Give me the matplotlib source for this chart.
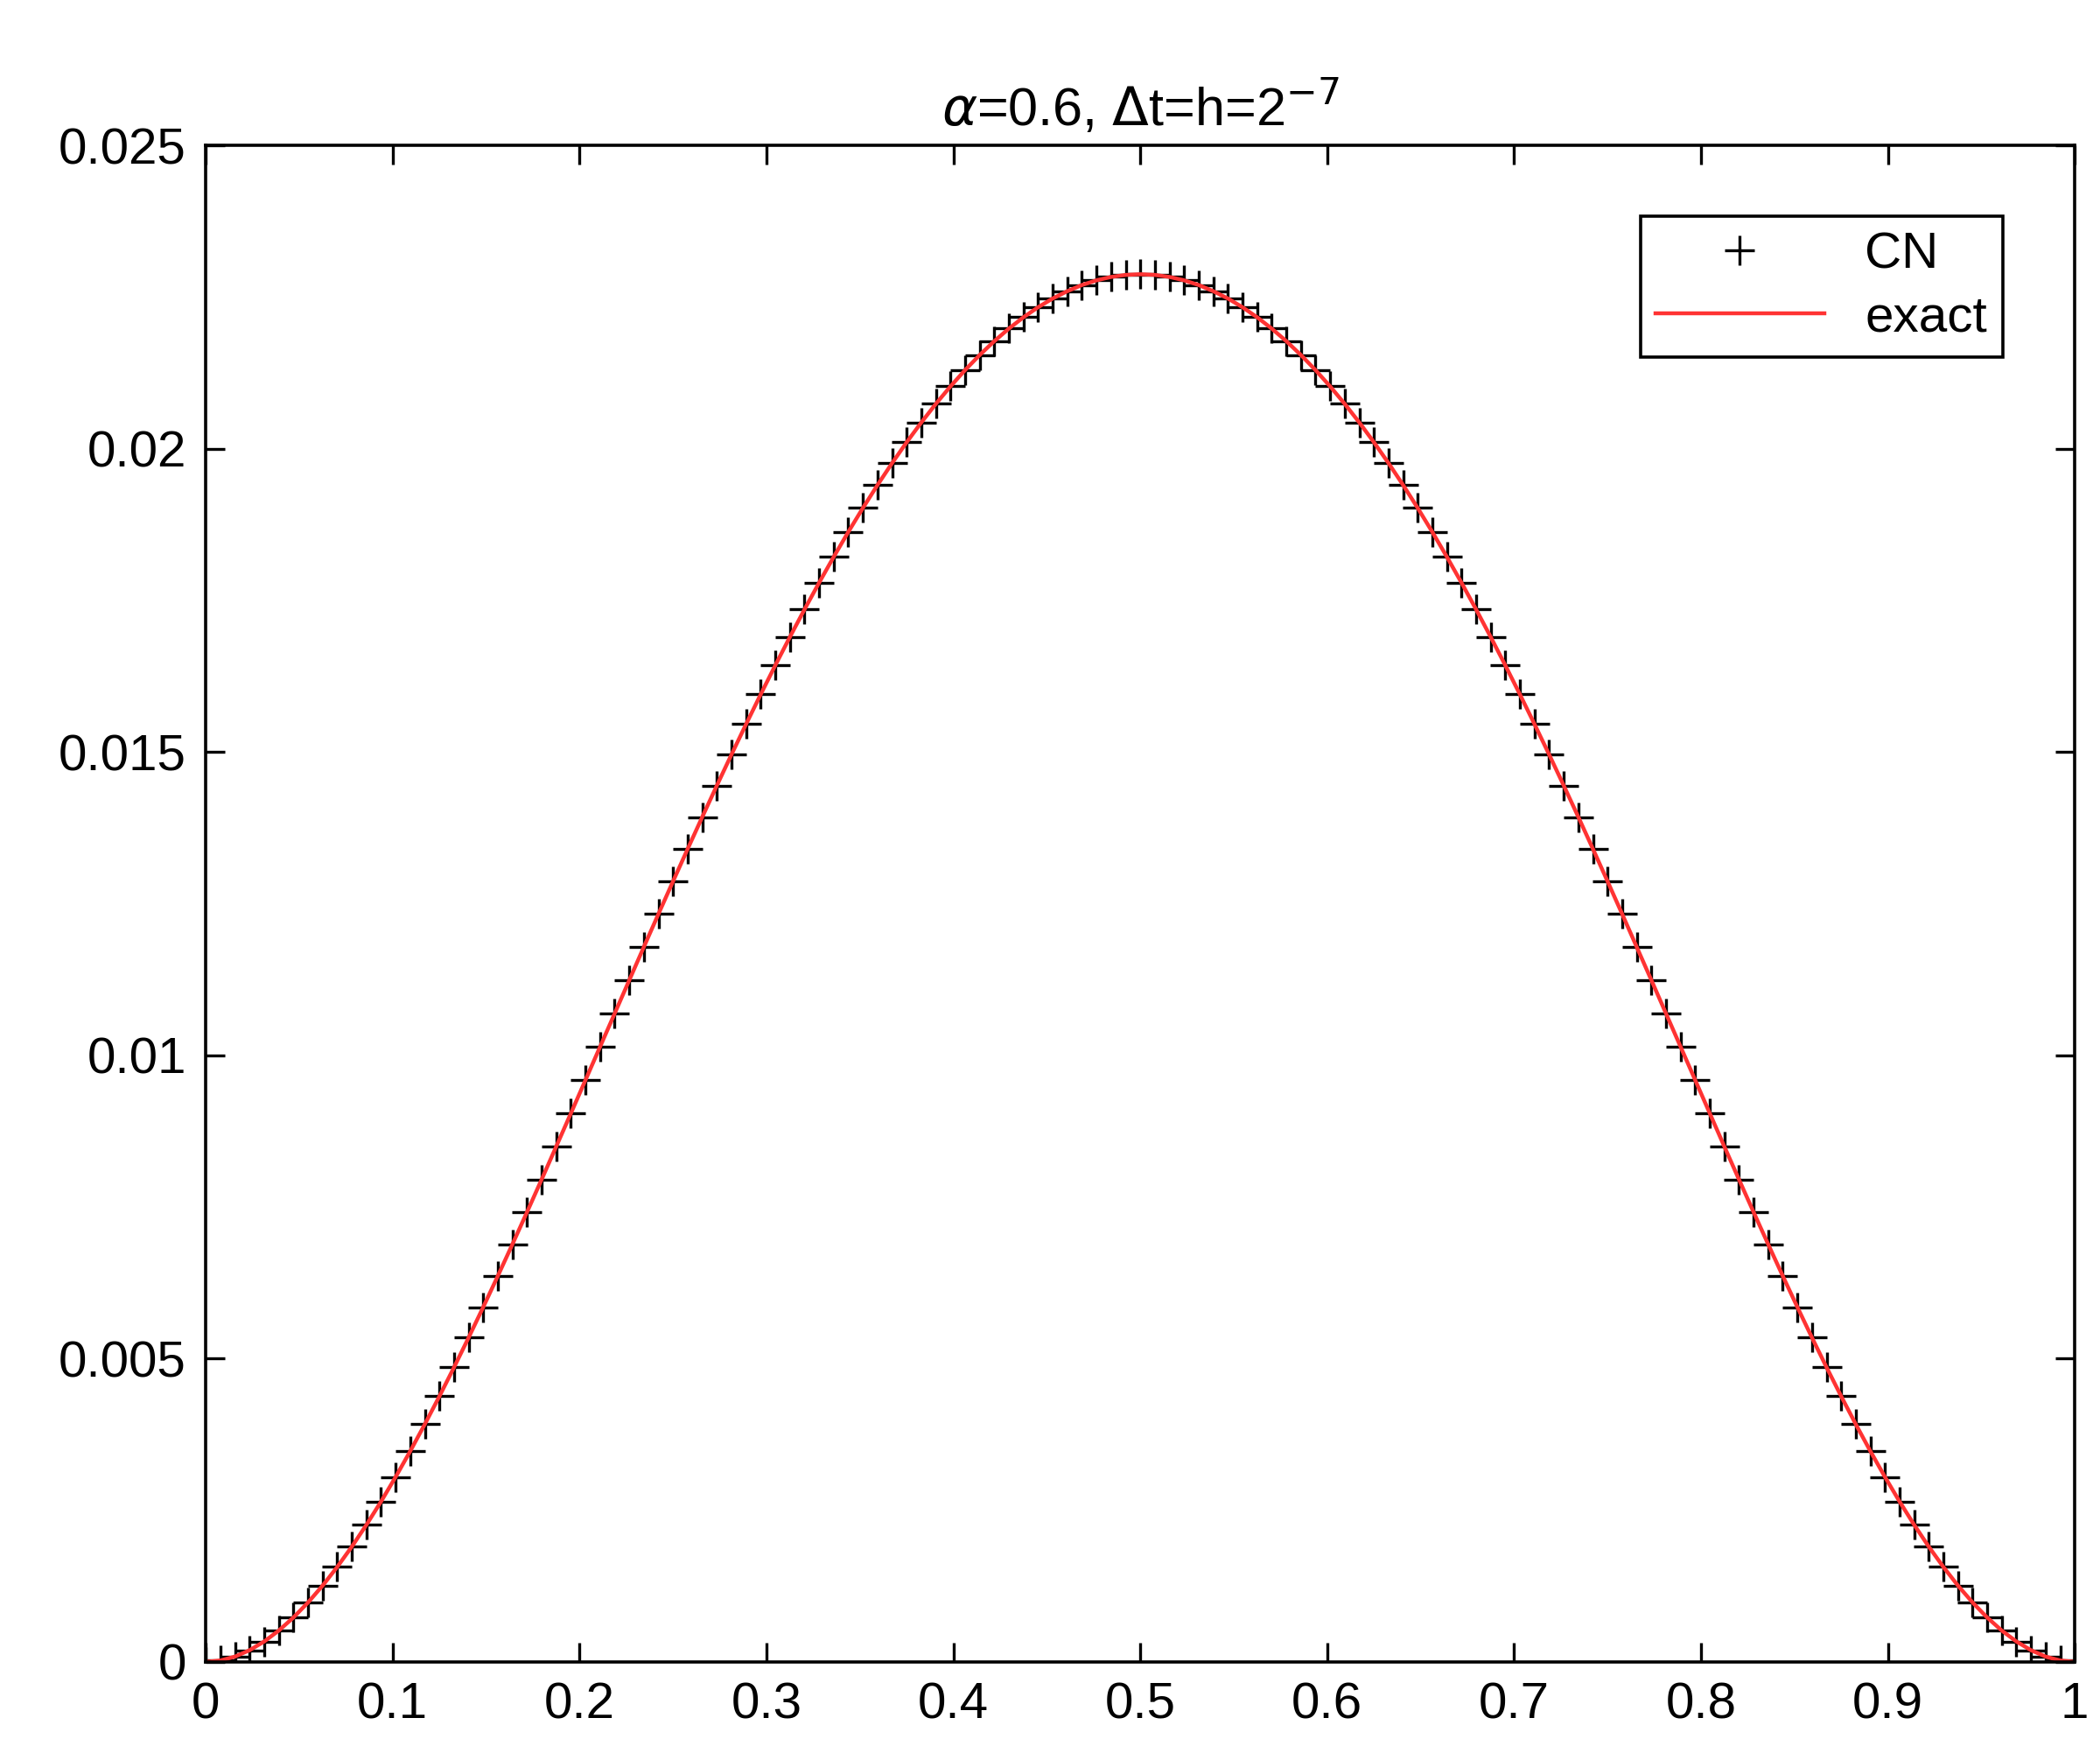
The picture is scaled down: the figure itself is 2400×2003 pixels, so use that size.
import numpy as np
import matplotlib.pyplot as plt

# grid x = i/128
x = np.arange(129) / 128.0
u = [0.0, 2.2e-05, 8.66e-05, 0.0001918, 0.0003355, 0.0005158, 0.0007307, 0.0009783,
     0.0012567, 0.0015641, 0.0018987, 0.0022587, 0.0026422, 0.0030477, 0.0034734, 0.0039177,
     0.0043789, 0.0048555, 0.0053459, 0.0058486, 0.006362, 0.0068849, 0.0074156, 0.0079529,
     0.0084953, 0.0090416, 0.0095904, 0.0101405, 0.0106907, 0.0112397, 0.0117865, 0.0123298,
     0.0128687, 0.0134019, 0.0139285, 0.0144475, 0.014958, 0.0154589, 0.0159494, 0.0164286,
     0.0168957, 0.01735, 0.0177905, 0.0182166, 0.0186276, 0.0190228, 0.0194015, 0.0197633,
     0.0201074, 0.0204333, 0.0207406, 0.0210288, 0.0212974, 0.021546, 0.0217742, 0.0219818,
     0.0221683, 0.0223336, 0.0224773, 0.0225979, 0.0226993, 0.0227772, 0.022833, 0.0228665,
     0.0228777,
     0.0228665, 0.022833, 0.0227772, 0.0226993, 0.0225979, 0.0224773, 0.0223336, 0.0221683,
     0.0219818, 0.0217742, 0.021546, 0.0212974, 0.0210288, 0.0207406, 0.0204333, 0.0201074,
     0.0197633, 0.0194015, 0.0190228, 0.0186276, 0.0182166, 0.0177905, 0.01735, 0.0168957,
     0.0164286, 0.0159494, 0.0154589, 0.014958, 0.0144475, 0.0139285, 0.0134019, 0.0128687,
     0.0123298, 0.0117865, 0.0112397, 0.0106907, 0.0101405, 0.0095904, 0.0090416, 0.0084953,
     0.0079529, 0.0074156, 0.0068849, 0.006362, 0.0058486, 0.0053459, 0.0048555, 0.0043789,
     0.0039177, 0.0034734, 0.0030477, 0.0026422, 0.0022587, 0.0018987, 0.0015641, 0.0012567,
     0.0009783, 0.0007307, 0.0005158, 0.0003355, 0.0001918, 8.66e-05, 2.2e-05, 0.0]

plt.rcParams['font.family'] = ['Liberation Sans', 'DejaVu Sans']
fig = plt.figure(figsize=(12, 10.015), dpi=200)
ax = fig.add_axes([0.098, 0.052, 0.89, 0.865])
ax.plot(x, u, '+', color='black', markersize=12, markeredgewidth=1.2, label='CN')
ax.plot(x, u, '-', color='#ff3333', linewidth=1.6, label='exact')
ax.set_xlim(0, 1)
ax.set_ylim(0, 0.025)
ax.set_xticks(np.arange(0, 1.01, 0.1))
ax.set_xticklabels(['0', '0.1', '0.2', '0.3', '0.4', '0.5', '0.6', '0.7', '0.8', '0.9', '1'])
ax.set_yticks([0, 0.005, 0.01, 0.015, 0.02, 0.025])
ax.set_yticklabels(['0', '0.005', '0.01', '0.015', '0.02', '0.025'])
ax.tick_params(direction='in', top=True, right=True, labelsize=21, length=8, width=1.2, pad=8)
for s in ax.spines.values():
    s.set_linewidth(1.3)
ax.set_title(r'$\alpha$=0.6, $\Delta$t=h=2$^{-7}$', fontsize=22, pad=8)
leg = ax.legend(loc='upper right', fontsize=21, fancybox=False, edgecolor='black',
                framealpha=1, borderpad=0.3, handlelength=3.3, labelspacing=0.3,
                bbox_to_anchor=(0.975, 0.97))
leg.get_frame().set_linewidth(1.3)
fig.savefig('out.png')
